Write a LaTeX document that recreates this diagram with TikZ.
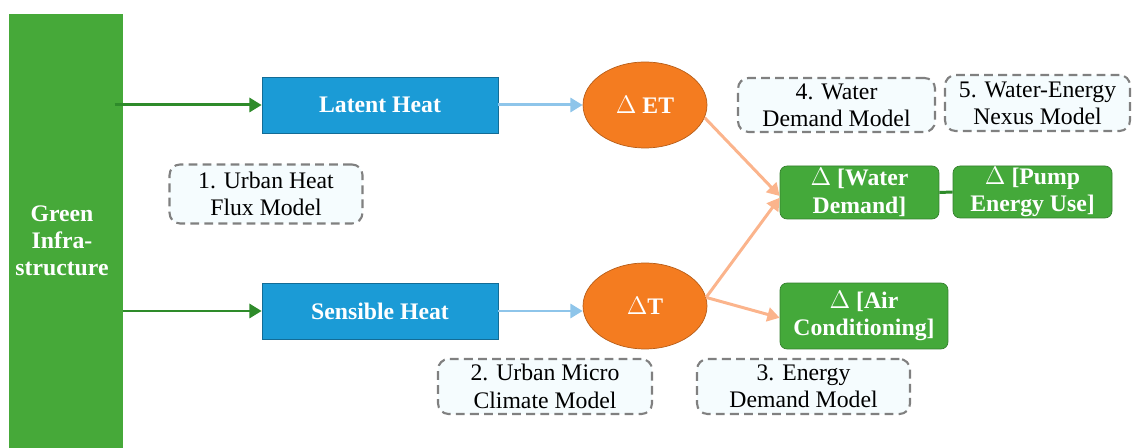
\documentclass[tikz,border=0pt]{standalone}
\usepackage{fontspec}
\setmainfont{Liberation Serif}
\usetikzlibrary{arrows.meta,shapes.geometric}

\definecolor{gigreen}{HTML}{46A939}
\definecolor{arrgreen}{HTML}{2E8B2A}
\definecolor{heatblue}{HTML}{1B9BD6}
\definecolor{lightblue}{HTML}{8EC5EA}
\definecolor{deltaorange}{HTML}{F47C20}
\definecolor{peach}{HTML}{FBB48C}
\definecolor{boxgreen}{HTML}{44A93A}

\tikzset{
  heatbox/.style={draw=heatblue!70!black, fill=heatblue, text=white, font=\rmfamily\fontsize{13.5}{15.5}\selectfont\bfseries,
    minimum width=4.72cm, minimum height=1.12cm, inner sep=0pt},
  deltaell/.style={ellipse, draw=deltaorange!75!black, fill=deltaorange, text=white,
    font=\rmfamily\fontsize{13.5}{15.5}\selectfont\bfseries, minimum width=2.48cm, minimum height=1.72cm, inner sep=0pt},
  effbox/.style={draw=boxgreen!75!black, fill=boxgreen, rounded corners=4pt, text=white, align=center,
    font=\rmfamily\fontsize{13.5}{15.5}\selectfont\bfseries, minimum width=3.18cm, inner sep=0pt},
  modelbox/.style={draw=gray, dashed, dash pattern=on 5pt off 3pt, line width=1.2pt, rounded corners=6pt,
    fill=cyan!4, align=center, font=\rmfamily\fontsize{13.5}{15.5}\selectfont, inner sep=0pt},
  garrow/.style={arrgreen, line width=1.7pt, -{Triangle[length=7pt,width=8pt]}},
  barrow/.style={lightblue, line width=1.7pt, -{Triangle[length=7pt,width=8pt]}},
  oarrow/.style={peach, line width=1.7pt, -{Triangle[length=7pt,width=8pt]}}
}

\begin{document}
\begin{tikzpicture}[x=0.02cm, y=-0.02cm]
  \useasboundingbox (0,0) rectangle (1132,448);

  % Green infrastructure bar
  \node[fill=gigreen, minimum width=2.28cm, minimum height=8.68cm, inner sep=0pt] (gi) at (66,231) {};
  \node[text=white, align=center, font=\rmfamily\fontsize{13.5}{15.5}\selectfont\bfseries] (gilabel) at (62,241) {Green\\Infra-\\structure};

  % Heat fluxes
  \node[heatbox] (lh) at (380,105) {Latent Heat};
  \node[heatbox] (sh) at (380,311) {Sensible Heat};

  % Deltas
  \node[deltaell] (et) at (645,105) {$\Delta$ ET};
  \node[deltaell] (dt) at (645,306) {$\Delta$T};

  % Effects
  \node[effbox, minimum height=1.06cm] (wd) at (859.5,192.5) {$\Delta$ [Water\\Demand]};
  \node[effbox, minimum height=1.04cm] (pe) at (1032.5,192) {$\Delta$ [Pump\\Energy Use]};
  \node[effbox, minimum width=3.36cm, minimum height=1.32cm] (ac) at (864,316) {$\Delta$ [Air\\Conditioning]};

  % Models
  \node[modelbox, minimum width=3.86cm, minimum height=1.18cm] (m1) at (266,194) {1. Urban Heat\\Flux Model};
  \node[modelbox, minimum width=4.28cm, minimum height=1.1cm] (m2) at (545,386.5) {2. Urban Micro\\Climate Model};
  \node[modelbox, minimum width=4.26cm, minimum height=1.1cm] (m3) at (803.5,386.5) {3. Energy\\Demand Model};
  \node[modelbox, minimum width=3.94cm, minimum height=1.08cm] (m4) at (836.5,105) {4. Water\\Demand Model};
  \node[modelbox, minimum width=3.7cm, minimum height=1.12cm] (m5) at (1037.5,103) {5. Water-Energy\\Nexus Model};

  % Connectors
  \draw[garrow] ([xshift=-5pt]gi.east |- lh.west) -- (lh.west);
  \draw[garrow] (gi.east |- sh.west) -- (sh.west);
  \draw[barrow] (lh.east) -- (et.west);
  \draw[barrow] (sh.east) -- (dt.west |- sh.east);
  \draw[oarrow] (et.-12) -- ([yshift=-2pt]wd.west);
  \draw[oarrow] (dt.8) -- ([yshift=-3pt]wd.west);
  \draw[oarrow] (dt.8) -- ([yshift=-1pt]ac.west);
  \draw[arrgreen, line width=1.7pt] (wd.east) -- (pe.west);
\end{tikzpicture}
\end{document}
